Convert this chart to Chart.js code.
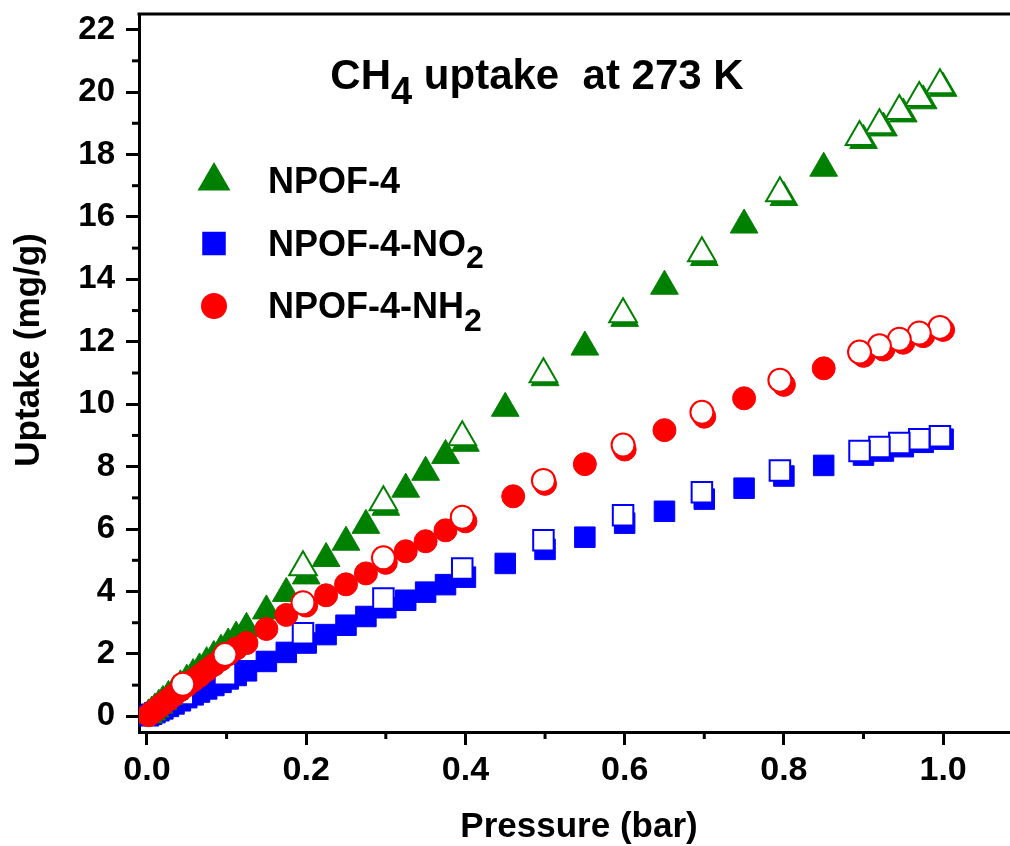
<!DOCTYPE html>
<html>
<head>
<meta charset="utf-8">
<title>CH4 uptake at 273 K</title>
<script src="https://cdn.jsdelivr.net/npm/chart.js@4.4.1/dist/chart.umd.min.js"></script>
<style>
    html, body { margin: 0; padding: 0; background: #fff; }
    #wrap { width: 1010px; height: 846px; position: relative; }
</style>
</head>
<body>
<div id="wrap"><canvas id="uptakeChart"></canvas></div>
<script>
// adsorption branch (filled symbols), NPOF-4 and NPOF-4-NO2 share pressures
const adsPressure = [0.002, 0.006, 0.01, 0.015, 0.02, 0.027, 0.034, 0.042, 0.05, 0.058, 0.066, 0.075, 0.084, 0.093, 0.102, 0.112, 0.125, 0.15, 0.175, 0.2, 0.225, 0.25, 0.275, 0.3, 0.325, 0.35, 0.375, 0.4, 0.45, 0.5, 0.55, 0.6, 0.65, 0.7, 0.75, 0.8, 0.85, 0.9, 0.925, 0.95, 0.975, 1.0];
const npof4Ads = [0.05, 0.14, 0.24, 0.36, 0.48, 0.64, 0.8, 0.98, 1.16, 1.34, 1.52, 1.72, 1.92, 2.12, 2.32, 2.54, 2.82, 3.38, 3.94, 4.5, 5.06, 5.58, 6.12, 6.7, 7.28, 7.82, 8.36, 8.75, 9.87, 10.85, 11.83, 12.75, 13.78, 14.7, 15.74, 16.62, 17.56, 18.45, 18.85, 19.3, 19.72, 20.12];
const no2Ads = [0.02, 0.07, 0.12, 0.18, 0.24, 0.32, 0.4, 0.5, 0.6, 0.69, 0.78, 0.88, 0.99, 1.09, 1.2, 1.31, 1.46, 1.76, 2.05, 2.35, 2.62, 2.92, 3.2, 3.48, 3.72, 3.98, 4.22, 4.46, 4.9, 5.35, 5.74, 6.19, 6.57, 6.96, 7.31, 7.7, 8.04, 8.37, 8.5, 8.64, 8.78, 8.88];

const nh2AdsPressure = [0.002, 0.006, 0.01, 0.015, 0.02, 0.027, 0.034, 0.042, 0.05, 0.058, 0.066, 0.075, 0.084, 0.093, 0.102, 0.112, 0.125, 0.15, 0.175, 0.2, 0.225, 0.25, 0.275, 0.3, 0.325, 0.35, 0.375, 0.4, 0.46, 0.5, 0.55, 0.6, 0.65, 0.7, 0.75, 0.8, 0.85, 0.9, 0.925, 0.95, 0.975, 1.0];
const nh2Ads = [0.04, 0.12, 0.2, 0.3, 0.4, 0.54, 0.68, 0.84, 0.99, 1.15, 1.3, 1.48, 1.65, 1.82, 1.99, 2.17, 2.35, 2.8, 3.25, 3.55, 3.88, 4.23, 4.58, 4.92, 5.29, 5.61, 5.96, 6.25, 7.05, 7.45, 8.08, 8.55, 9.17, 9.6, 10.19, 10.62, 11.15, 11.55, 11.75, 11.97, 12.18, 12.38];

// desorption branch (open symbols)
const desPressure = [0.996, 0.97, 0.945, 0.92, 0.895, 0.795, 0.697, 0.598, 0.498, 0.396, 0.297, 0.196, 0.098, 0.045];
const npof4Des = [20.22, 19.81, 19.39, 18.94, 18.56, 16.76, 14.84, 12.88, 10.96, 8.94, 6.86, 4.78, null, null];
const no2Des = [8.97, 8.88, 8.76, 8.63, 8.5, 7.88, 7.18, 6.44, 5.64, 4.74, 3.78, 2.66, 1.35, 0.72];
const nh2Des = [12.46, 12.28, 12.08, 11.87, 11.67, 10.77, 9.74, 8.69, 7.56, 6.38, 5.08, 3.64, 1.98, 1.03];

// tick positions (every one gets a mark, labelled ones listed separately)
const xTickValues = [0, 0.1, 0.2, 0.3, 0.4, 0.5, 0.6, 0.7, 0.8, 0.9, 1.0];
const xTickLabels = ['0.0', '', '0.2', '', '0.4', '', '0.6', '', '0.8', '', '1.0'];
const yTickValues = [0, 1, 2, 3, 4, 5, 6, 7, 8, 9, 10, 11, 12, 13, 14, 15, 16, 17, 18, 19, 20, 21, 22];
const yTickLabels = ['0', '', '2', '', '4', '', '6', '', '8', '', '10', '', '12', '', '14', '', '16', '', '18', '', '20', '', '22'];

const chartTitle = 'CH_4 uptake  at 273 K';
const xTitle = 'Pressure (bar)';
const yTitle = 'Uptake (mg/g)';

const FONT = '"Liberation Sans", Arial, sans-serif';
const GREEN = '#008000';
const BLUE = '#0000ff';
const RED = '#ff0000';

function toPoints(xs, ys) {
    return xs.map((x, i) => ({ x: x, y: ys[i] })).filter(p => p.y !== null);
}

// text with "_2" style subscripts
function richText(ctx, str, x, y, size, align) {
    const parts = str.split(/_(\d)/);
    const subSize = Math.round(size * 0.9);
    let total = 0;
    parts.forEach((p, i) => {
        ctx.font = `bold ${i % 2 ? subSize : size}px ${FONT}`;
        total += ctx.measureText(p).width;
    });
    let cx = align === 'center' ? x - total / 2 : x;
    ctx.textAlign = 'left';
    ctx.textBaseline = 'alphabetic';
    parts.forEach((p, i) => {
        const sub = i % 2 === 1;
        ctx.font = `bold ${sub ? subSize : size}px ${FONT}`;
        ctx.fillText(p, cx, sub ? y + size * 0.36 : y);
        cx += ctx.measureText(p).width;
    });
}

const framePlugin = {
    id: 'frame',
    afterDraw(chart) {
        const ctx = chart.ctx;
        const area = chart.chartArea;
        ctx.save();
        ctx.strokeStyle = '#000';
        ctx.lineWidth = 3;

        // top frame line
        ctx.beginPath();
        ctx.moveTo(area.left - 1.5, area.top);
        ctx.lineTo(chart.width, area.top);
        ctx.stroke();

        // minor ticks (shorter than the labelled ones)
        const xs = chart.scales.x;
        xs.ticks.forEach((t, i) => {
            if (xTickLabels[i]) return;
            const px = xs.getPixelForValue(t.value);
            ctx.beginPath();
            ctx.moveTo(px, area.bottom);
            ctx.lineTo(px, area.bottom + 7);
            ctx.stroke();
        });
        const ys = chart.scales.y;
        ys.ticks.forEach((t, i) => {
            if (yTickLabels[i]) return;
            const py = ys.getPixelForValue(t.value);
            ctx.beginPath();
            ctx.moveTo(area.left, py);
            ctx.lineTo(area.left - 7, py);
            ctx.stroke();
        });

        // titles
        ctx.fillStyle = '#000';
        richText(ctx, chartTitle, 537, 89, 42, 'center');
        richText(ctx, xTitle, 579, 837, 35, 'center');
        ctx.save();
        ctx.translate(39, 350);
        ctx.rotate(-Math.PI / 2);
        richText(ctx, yTitle, 0, 0, 35, 'center');
        ctx.restore();

        // legend
        chart.data.datasets.forEach(ds => {
            if (ds.legendRow === undefined) return;
            const rowY = 181 + ds.legendRow * 62.5;
            ctx.fillStyle = ds.backgroundColor;
            ctx.strokeStyle = ds.borderColor;
            Chart.helpers.drawPoint(ctx, {
                pointStyle: ds.pointStyle,
                radius: ds.pointRadius,
                rotation: 0,
                borderWidth: ds.borderWidth
            }, 214, rowY);
            ctx.fillStyle = '#000';
            richText(ctx, ds.label, 268, rowY + 12, 36, 'left');
        });
        ctx.restore();
    }
};

function makeDataset(label, points, color, style, radius, open, order, legendRow) {
    return {
        label: label,
        data: points,
        pointStyle: style,
        pointRadius: radius,
        backgroundColor: open ? '#ffffff' : color,
        borderColor: color,
        borderWidth: open ? 2 : 1,
        showLine: false,
        clip: 0,
        order: order,
        legendRow: legendRow
    };
}

function noPadding(scale) {
    scale.paddingLeft = 0;
    scale.paddingRight = 0;
    scale.paddingTop = 0;
    scale.paddingBottom = 0;
}

const ctx = document.getElementById('uptakeChart').getContext('2d');
new Chart(ctx, {
    type: 'scatter',
    data: {
        datasets: [
            makeDataset('NPOF-4-NH_2 des', toPoints(desPressure, nh2Des), RED, 'circle', 11.5, true, 0),
            makeDataset('NPOF-4-NH_2', toPoints(nh2AdsPressure, nh2Ads), RED, 'circle', 11.5, false, 1, 2),
            makeDataset('NPOF-4 des', toPoints(desPressure, npof4Des), GREEN, 'triangle', 16, true, 2),
            makeDataset('NPOF-4', toPoints(adsPressure, npof4Ads), GREEN, 'triangle', 16, false, 3, 0),
            makeDataset('NPOF-4-NO_2 des', toPoints(desPressure, no2Des), BLUE, 'rect', 14.5, true, 4),
            makeDataset('NPOF-4-NO_2', toPoints(adsPressure, no2Ads), BLUE, 'rect', 14.5, false, 5, 1)
        ]
    },
    options: {
        responsive: true,
        maintainAspectRatio: false,
        animation: false,
        events: [],
        layout: { autoPadding: false, padding: { top: 14, right: 0, left: 0, bottom: 0 } },
        plugins: {
            legend: { display: false },
            tooltip: { enabled: false },
            title: { display: false }
        },
        scales: {
            x: {
                type: 'linear',
                bounds: 'data',
                min: -0.01,
                max: 1.084,
                afterBuildTicks: scale => { scale.ticks = xTickValues.map(v => ({ value: v })); },
                afterFit: scale => { scale.height = 114; noPadding(scale); },
                border: { display: true, color: '#000', width: 3 },
                grid: {
                    drawOnChartArea: false,
                    drawTicks: true,
                    tickLength: 13,
                    tickWidth: 3,
                    tickColor: c => (c.index !== undefined && xTickLabels[c.index]) ? '#000' : 'rgba(0,0,0,0)'
                },
                ticks: {
                    autoSkip: false,
                    maxRotation: 0,
                    padding: 5,
                    color: '#000',
                    font: { family: FONT, weight: 'bold', size: 34 },
                    callback: (v, i) => xTickLabels[i]
                }
            },
            y: {
                type: 'linear',
                bounds: 'data',
                min: -0.5,
                max: 22.5,
                afterBuildTicks: scale => { scale.ticks = yTickValues.map(v => ({ value: v })); },
                afterFit: scale => { scale.width = 139; noPadding(scale); },
                border: { display: true, color: '#000', width: 3 },
                grid: {
                    drawOnChartArea: false,
                    drawTicks: true,
                    tickLength: 13,
                    tickWidth: 3,
                    tickColor: c => (c.index !== undefined && yTickLabels[c.index]) ? '#000' : 'rgba(0,0,0,0)'
                },
                ticks: {
                    autoSkip: false,
                    padding: 11,
                    color: '#000',
                    font: { family: FONT, weight: 'bold', size: 33 },
                    callback: (v, i) => yTickLabels[i]
                }
            }
        }
    },
    plugins: [framePlugin]
});
</script>
</body>
</html>
